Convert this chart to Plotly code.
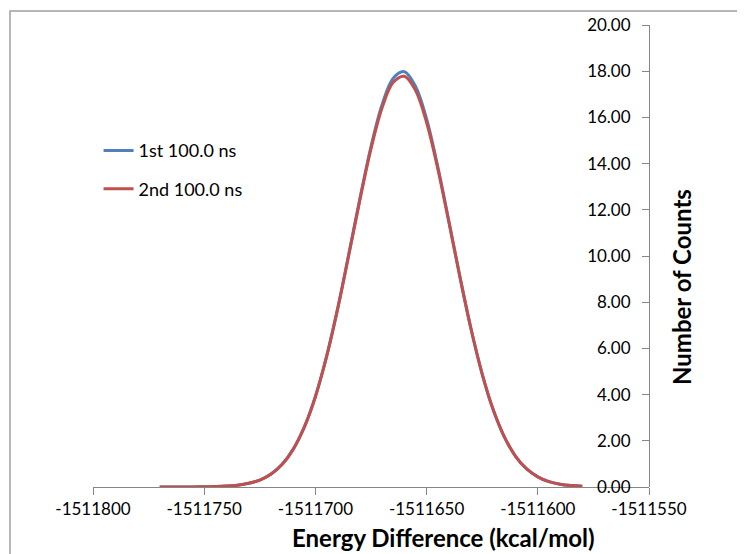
import plotly.graph_objects as go

# Energy difference (kcal/mol) sample positions
energy = [-1511770, -1511765, -1511760, -1511755, -1511750, -1511745, -1511740, -1511735,
          -1511730, -1511725, -1511720, -1511715, -1511710, -1511705, -1511700, -1511695,
          -1511690, -1511685, -1511680, -1511675, -1511670, -1511665, -1511660, -1511655,
          -1511650, -1511645, -1511640, -1511635, -1511630, -1511625, -1511620, -1511615,
          -1511610, -1511605, -1511600, -1511595, -1511590, -1511585, -1511580]

# Number of counts, first 100.0 ns
counts_first = [0.00, 0.00, 0.00, 0.00, 0.01, 0.02, 0.04, 0.08, 0.16, 0.30, 0.56, 0.98,
                1.63, 2.59, 3.92, 5.64, 7.73, 10.08, 12.49, 14.74, 16.56, 17.70, 17.98, 17.35,
                15.93, 13.88, 11.52, 9.10, 6.84, 4.89, 3.33, 2.16, 1.33, 0.78, 0.44, 0.23,
                0.12, 0.06, 0.03]

# Number of counts, second 100.0 ns
counts_second = [0.00, 0.00, 0.00, 0.00, 0.01, 0.02, 0.04, 0.08, 0.16, 0.30, 0.55, 0.97,
                 1.63, 2.59, 3.91, 5.63, 7.70, 10.03, 12.42, 14.64, 16.42, 17.52, 17.78, 17.17,
                 15.78, 13.79, 11.47, 9.08, 6.83, 4.89, 3.33, 2.16, 1.33, 0.78, 0.44, 0.23,
                 0.12, 0.06, 0.03]

x_ticks = [-1511800, -1511750, -1511700, -1511650, -1511600, -1511550]
y_ticks = [0, 2, 4, 6, 8, 10, 12, 14, 16, 18, 20]

FONT = "Lato"
AXIS_GRAY = "#868686"

fig = go.Figure()
fig.add_trace(go.Scatter(x=energy, y=counts_first, mode="lines", name="1st 100.0 ns",
                         line=dict(color="#4F81BD", width=3, shape="spline"),
                         legendgroup="a"))
fig.add_trace(go.Scatter(x=energy, y=counts_second, mode="lines", name="2nd 100.0 ns",
                         line=dict(color="#C0504D", width=3, shape="spline"),
                         legendgroup="b"))

# the page body has an 8px margin, so the figure is made 8px smaller
fig.update_layout(
    width=737, height=546,
    margin=dict(l=85, r=96, t=17, b=67, autoexpand=False),
    paper_bgcolor="white", plot_bgcolor="white",
    font=dict(family=FONT, size=17, color="#000000"),
    showlegend=True,
    legend=dict(x=0.01, y=0.768, xanchor="left", yanchor="top",
                font=dict(family=FONT, size=18), tracegroupgap=12,
                bgcolor="rgba(0,0,0,0)"),
    xaxis=dict(range=[-1511800, -1511550], tickvals=x_ticks,
               ticktext=[str(v) for v in x_ticks], automargin=False,
               showgrid=False, zeroline=False, showline=True, linecolor=AXIS_GRAY,
               linewidth=1, ticks="outside", ticklen=7, tickcolor=AXIS_GRAY,
               tickfont=dict(family=FONT, size=17)),
    yaxis=dict(range=[0, 20], tickvals=y_ticks, tickformat=".2f",
               anchor="free", position=1, side="left", automargin=False,
               ticks="outside", ticklen=7, tickcolor=AXIS_GRAY, ticklabelstandoff=8,
               showgrid=False, zeroline=False, showline=True, linecolor=AXIS_GRAY,
               linewidth=1, tickfont=dict(family=FONT, size=17)),
    shapes=[dict(type="rect", xref="paper", yref="paper", x0=-0.1493, x1=1.3,
                 y0=-0.3, y1=1.0303, line=dict(color="#A0A0A0", width=1.5),
                 fillcolor="rgba(0,0,0,0)", layer="below")],
    annotations=[
        dict(text="<b>Energy Difference (kcal/mol)</b>", xref="paper", yref="paper",
             x=0.631, y=-0.110, xanchor="center", yanchor="middle", showarrow=False,
             font=dict(family=FONT, size=24)),
        dict(text="<b>Number of Counts</b>", xref="paper", yref="paper",
             x=1.0594, y=0.433, xanchor="center", yanchor="middle", showarrow=False,
             textangle=-90, font=dict(family=FONT, size=24)),
    ],
)

fig.write_html("out.html")
